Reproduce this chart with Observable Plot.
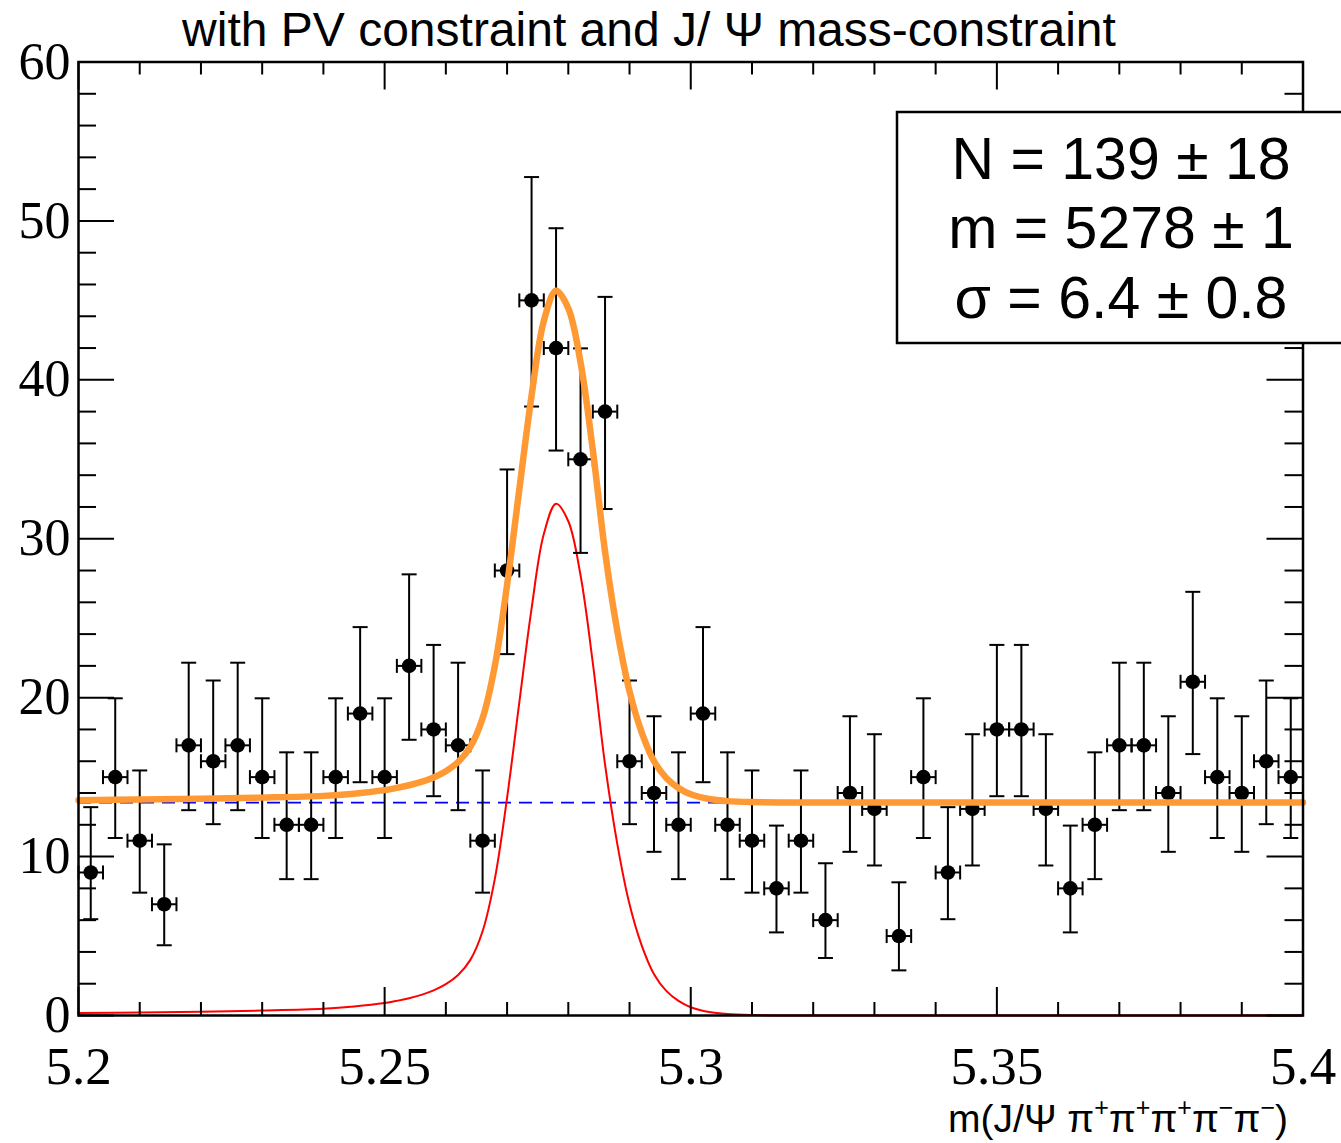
<!DOCTYPE html>
<html><head><meta charset="utf-8">
<script src="https://cdn.jsdelivr.net/npm/d3@7"></script>
<script src="https://cdn.jsdelivr.net/npm/@observablehq/plot@0.6"></script>
<style>
html,body{margin:0;padding:0;background:#fff;}
#chart{position:relative;width:1341px;height:1143px;overflow:hidden;}
</style></head><body><div id="chart"></div>
<script>
// ---- data ----
const binCenters = [5.202,5.206,5.210,5.214,5.218,5.222,5.226,5.230,5.234,5.238,
                    5.242,5.246,5.250,5.254,5.258,5.262,5.266,5.270,5.274,5.278,
                    5.282,5.286,5.290,5.294,5.298,5.302,5.306,5.310,5.314,5.318,
                    5.322,5.326,5.330,5.334,5.338,5.342,5.346,5.350,5.354,5.358,
                    5.362,5.366,5.370,5.374,5.378,5.382,5.386,5.390,5.394,5.398];
const counts = [9,15,11,7,17,16,17,15,12,12,
                15,19,15,22,18,17,11,28,45,42,
                35,38,16,14,12,19,12,11,8,11,
                6,14,13,5,15,9,13,18,18,13,
                8,12,17,17,14,21,15,14,16,15];
const errLow = [6.06,11.17,7.73,4.42,12.92,12.04,12.92,11.17,8.58,8.58,
                11.17,14.68,11.17,17.35,13.80,12.92,7.73,22.74,38.32,35.55,
                29.11,31.87,12.04,10.30,8.58,14.68,8.58,7.73,5.23,7.73,
                3.62,10.30,9.44,2.84,11.17,6.06,9.44,13.80,13.80,9.44,
                5.23,8.58,12.92,12.92,10.30,16.45,11.17,10.30,12.04,11.17];
const errHigh = [13.11,19.96,15.42,10.77,22.20,21.08,22.20,19.96,16.56,16.56,
                 19.96,24.44,19.96,27.76,23.32,22.20,15.42,34.36,52.76,49.54,
                 41.98,45.22,21.08,18.83,16.56,24.44,16.56,15.42,11.95,15.42,
                 9.58,18.83,17.70,8.38,19.96,13.11,17.70,23.32,23.32,17.70,
                 11.95,16.56,22.20,22.20,18.83,26.66,19.96,18.83,21.08,19.96];
const binHalfWidth = 0.002;

const curveX  = [5.200,5.210,5.220,5.230,5.240,5.245,5.250,5.252,5.254,5.256,
                 5.258,5.260,5.262,5.264,5.266,5.268,5.270,5.272,5.274,5.276,
                 5.278,5.280,5.282,5.284,5.286,5.288,5.290,5.292,5.294,5.296,
                 5.298,5.300,5.303,5.306,5.310,5.320,5.340,5.370,5.400];
const signalY = [0.15,0.19,0.24,0.31,0.42,0.56,0.78,0.92,1.09,1.30,
                 1.58,1.97,2.55,3.5,5.3,8.6,13.7,19.7,25.6,30.3,
                 32.2,31.1,27.7,22.2,15.8,10.8,7.0,4.4,2.6,1.55,
                 0.92,0.52,0.22,0.09,0.03,0.0,0.0,0.0,0.0];
const totalY  = [13.55,13.59,13.64,13.71,13.82,13.96,14.18,14.32,14.49,14.70,
                 14.98,15.37,15.95,16.9,18.7,22.0,27.1,33.1,39.0,43.7,
                 45.6,44.5,41.1,35.6,29.2,24.2,20.4,17.8,16.0,14.95,
                 14.32,13.92,13.62,13.49,13.43,13.4,13.4,13.4,13.4];
const backgroundLevel = 13.4;

const xTickValues = [5.2,5.25,5.3,5.35,5.4];
const xTickLabels = ["5.2","5.25","5.3","5.35","5.4"];
const xMinorTicks = [5.21,5.22,5.23,5.24,5.26,5.27,5.28,5.29,5.31,5.32,5.33,5.34,5.36,5.37,5.38,5.39];
const yTickValues = [0,10,20,30,40,50,60];
const yTickLabels = ["0","10","20","30","40","50","60"];
const yMinorTicks = [2,4,6,8,12,14,16,18,22,24,26,28,32,34,36,38,42,44,46,48,52,54,56,58];

const titleText = "with PV constraint and J/ Ψ mass-constraint";
const xLabelStart = "m(J/Ψ ";
const xLabelCharges = ["+","+","+","−","−"];
const statsLines = ["N = 139 ± 18", "m = 5278 ± 1", "σ = 6.4 ± 0.8"];

// ---- build tables ----
const points = counts.map((c, i) => ({
  x: binCenters[i], y: c, lo: errLow[i], hi: errHigh[i],
  x1: binCenters[i] - binHalfWidth, x2: binCenters[i] + binHalfWidth
}));
const sigRows = curveX.map((x, i) => ({x, y: signalY[i]}));
const totRows = curveX.map((x, i) => ({x, y: totalY[i]}));
const xTicks = xTickValues.map((v, i) => ({v, t: xTickLabels[i]}));
const yTicks = yTickValues.map((v, i) => ({v, t: yTickLabels[i]}));

// ---- layout ----
const W = 1341, H = 1143;
const mL = 78, mR = 38.5, mT = 61.5, mB = 128;
const fw = W - mL - mR, fh = H - mT - mB;
const majX = 28, minX = 13, majY = 36, minY = 18;

const hCap = {draw(ctx, size) { const r = Math.sqrt(size / Math.PI); ctx.moveTo(-r, 0); ctx.lineTo(r, 0); }};
const vCap = {draw(ctx, size) { const r = Math.sqrt(size / Math.PI); ctx.moveTo(0, -r); ctx.lineTo(0, r); }};

const serif = "Liberation Serif, Times New Roman, serif";
const sans = "Liberation Sans, Arial, Helvetica, sans-serif";

const plot = Plot.plot({
  width: W, height: H,
  marginLeft: mL, marginRight: mR, marginTop: mT, marginBottom: mB,
  x: {domain: [5.2, 5.4], axis: null},
  y: {domain: [0, 60], axis: null},
  style: {background: "white"},
  marks: [
    Plot.ruleY([backgroundLevel], {stroke: "#0000ff", strokeWidth: 1.8, strokeDasharray: "13,8"}),
    Plot.line(sigRows, {x: "x", y: "y", stroke: "#ff0000", strokeWidth: 2, curve: "catmull-rom"}),
    Plot.ruleX(points, {x: "x", y1: "lo", y2: "hi", stroke: "black", strokeWidth: 2}),
    Plot.ruleY(points, {y: "y", x1: "x1", x2: "x2", stroke: "black", strokeWidth: 2}),
    Plot.dot(points, {x: "x", y: "hi", symbol: hCap, r: 7.5, fill: "none", stroke: "black", strokeWidth: 2}),
    Plot.dot(points, {x: "x", y: "lo", symbol: hCap, r: 7.5, fill: "none", stroke: "black", strokeWidth: 2}),
    Plot.dot(points, {x: "x1", y: "y", symbol: vCap, r: 7, fill: "none", stroke: "black", strokeWidth: 2}),
    Plot.dot(points, {x: "x2", y: "y", symbol: vCap, r: 7, fill: "none", stroke: "black", strokeWidth: 2}),
    Plot.dot(points, {x: "x", y: "y", r: 7.3, fill: "black", stroke: "none"}),
    Plot.line(totRows, {x: "x", y: "y", stroke: "#ff9933", strokeWidth: 6.5, curve: "catmull-rom"}),
    // ticks (inward, all four sides)
    Plot.tickX(xTickValues, {x: d => d, insetTop: fh - majX, stroke: "black", strokeWidth: 2}),
    Plot.tickX(xMinorTicks, {x: d => d, insetTop: fh - minX, stroke: "black", strokeWidth: 2}),
    Plot.tickX(xTickValues, {x: d => d, insetBottom: fh - majX, stroke: "black", strokeWidth: 2}),
    Plot.tickX(xMinorTicks, {x: d => d, insetBottom: fh - minX, stroke: "black", strokeWidth: 2}),
    Plot.tickY(yTickValues, {y: d => d, insetRight: fw - majY, stroke: "black", strokeWidth: 2}),
    Plot.tickY(yMinorTicks, {y: d => d, insetRight: fw - minY, stroke: "black", strokeWidth: 2}),
    Plot.tickY(yTickValues, {y: d => d, insetLeft: fw - majY, stroke: "black", strokeWidth: 2}),
    Plot.tickY(yMinorTicks, {y: d => d, insetLeft: fw - minY, stroke: "black", strokeWidth: 2}),
    Plot.frame({stroke: "black", strokeWidth: 2.5}),
    // tick labels
    Plot.text(xTicks, {x: "v", text: "t", frameAnchor: "bottom", dy: 68, lineAnchor: "bottom",
      fontSize: 53, fontFamily: serif, fill: "black"}),
    Plot.text(yTicks, {y: "v", text: "t", frameAnchor: "left", dx: -8, textAnchor: "end", lineAnchor: "middle",
      fontSize: 52, fontFamily: serif, fill: "black"})
  ]
});

document.getElementById("chart").appendChild(plot);
const svg = d3.select(plot);

// title
svg.append("text")
  .attr("x", 649).attr("y", 46)
  .attr("text-anchor", "middle")
  .attr("font-family", sans).attr("font-size", 48).attr("fill", "black")
  .text(titleText);

// x-axis label with superscripts
const xl = svg.append("text")
  .attr("x", 1288).attr("y", 1132)
  .attr("text-anchor", "end")
  .attr("font-family", sans).attr("font-size", 39).attr("fill", "black");
xl.append("tspan").text(xLabelStart);
xLabelCharges.forEach((c, i) => {
  xl.append("tspan").attr("dy", i === 0 ? 0 : 16).text("π");
  xl.append("tspan").attr("font-size", 25).attr("dy", -16).text(c);
});
xl.append("tspan").attr("dy", 16).text(")");

// stats box
svg.append("rect")
  .attr("x", 897).attr("y", 112).attr("width", 470).attr("height", 231)
  .attr("fill", "white").attr("stroke", "black").attr("stroke-width", 2.5);
const baselines = [179, 248, 318];
statsLines.forEach((s, i) => {
  svg.append("text")
    .attr("x", 1121).attr("y", baselines[i])
    .attr("text-anchor", "middle")
    .attr("font-family", sans).attr("font-size", 59).attr("fill", "black")
    .text(s);
});
</script>
</body></html>
